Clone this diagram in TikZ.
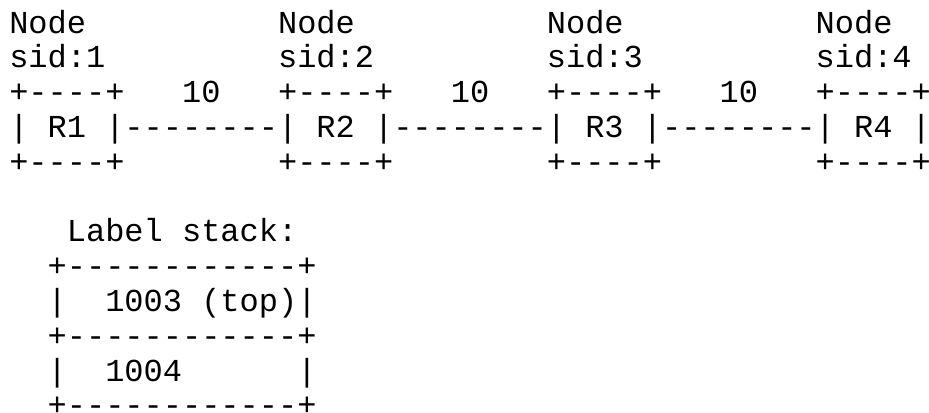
\documentclass[tikz,border=0pt]{standalone}
\usepackage{fontspec}
\setmonofont{Liberation Mono}

\begin{document}
\begin{tikzpicture}[x=0.75pt,y=0.75pt,yscale=-1,xscale=1]
\tikzset{ascii/.style={anchor=base west,inner sep=0pt,font=\ttfamily\fontsize{24}{26}\selectfont}}
\useasboundingbox (0,0) rectangle (929,412);
% node names
\draw (9,33) node (nd1) [ascii] {Node};
\draw (277.8,33) node (nd2) [ascii] {Node};
\draw (546.6,33) node (nd3) [ascii] {Node};
\draw (815.4,33) node (nd4) [ascii] {Node};
\draw (9,67.8) node (sid1) [ascii] {sid:1};
\draw (277.8,67.8) node (sid2) [ascii] {sid:2};
\draw (546.6,67.8) node (sid3) [ascii] {sid:3};
\draw (815.4,67.8) node (sid4) [ascii] {sid:4};
% router boxes
\draw (9,102.6) node (top1) [ascii] {+----+};
\draw (277.8,102.6) node (top2) [ascii] {+----+};
\draw (546.6,102.6) node (top3) [ascii] {+----+};
\draw (815.4,102.6) node (top4) [ascii] {+----+};
\draw (9,137.4) node (r1) [ascii] {| R1 |};
\draw (277.8,137.4) node (r2) [ascii] {| R2 |};
\draw (546.6,137.4) node (r3) [ascii] {| R3 |};
\draw (815.4,137.4) node (r4) [ascii] {| R4 |};
\draw (9,172.2) node (bot1) [ascii] {+----+};
\draw (277.8,172.2) node (bot2) [ascii] {+----+};
\draw (546.6,172.2) node (bot3) [ascii] {+----+};
\draw (815.4,172.2) node (bot4) [ascii] {+----+};
% links and metrics
\draw (124.2,137.4) node (ln12) [ascii] {--------};
\draw (393,137.4) node (ln23) [ascii] {--------};
\draw (661.8,137.4) node (ln34) [ascii] {--------};
\draw (181.8,102.6) node (w12) [ascii] {10};
\draw (450.6,102.6) node (w23) [ascii] {10};
\draw (719.4,102.6) node (w34) [ascii] {10};
% label stack
\draw (66.6,241.8) node (stk) [ascii] {Label stack:};
\draw (47.4,276.6) node (stktop) [ascii] {+------------+};
\draw (47.4,311.4) node (lbl1l) [ascii] {|};
\draw (105,311.4) node (lbl1) [ascii] {1003 (top)};
\draw (297,311.4) node (lbl1r) [ascii] {|};
\draw (47.4,346.2) node (stkmid) [ascii] {+------------+};
\draw (47.4,381) node (lbl2l) [ascii] {|};
\draw (105,381) node (lbl2) [ascii] {1004};
\draw (297,381) node (lbl2r) [ascii] {|};
\draw (47.4,415.8) node (stkbot) [ascii] {+------------+};
\end{tikzpicture}
\end{document}
